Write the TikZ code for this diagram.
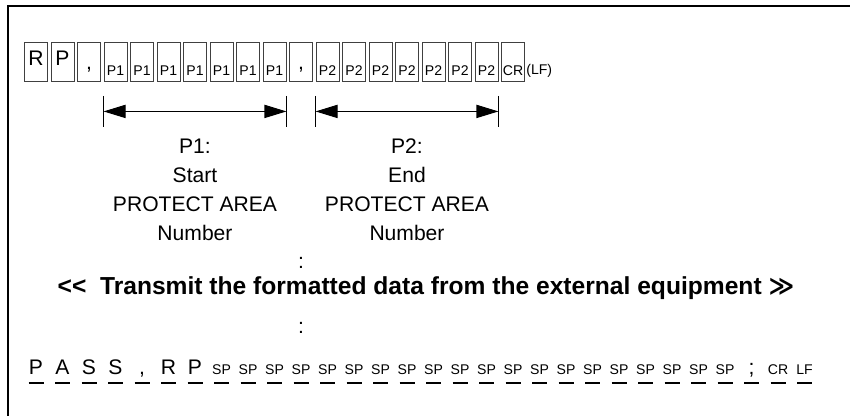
\documentclass[tikz,border=0pt]{standalone}
\usepackage{fontspec}
\setmainfont{Liberation Sans}
\newfontfamily\symfont{DejaVu Sans}
\usetikzlibrary{arrows.meta,positioning,calc}

\begin{document}
\begin{tikzpicture}[
    frame/.style={line width=1.3pt, black},
    cell/.style={
        draw=black!75,
        line width=0.5pt,
        minimum width=0.46cm,
        minimum height=0.78cm,
        inner sep=0pt,
        font=\fontsize{12}{14}\selectfont,
        text height=8.5pt,
        text depth=4.5pt
    },
    commacell/.style={
        cell,
        text height=8.6pt,
        text depth=0pt
    },
    smallcell/.style={
        cell,
        font=\fontsize{8}{10}\selectfont,
        text height=15.4pt,
        text depth=0pt
    },
    bigch/.style={anchor=base, inner sep=0pt, font=\fontsize{12}{14}\selectfont},
    smallch/.style={anchor=base, inner sep=0pt, font=\fontsize{8}{10}\selectfont},
    uline/.style={line width=1.1pt, black},
    dimarrow/.style={
        {Triangle[length=12.5pt,width=7.5pt]}-{Triangle[length=12.5pt,width=7.5pt]},
        line width=0.6pt
    },
    tick/.style={line width=0.7pt},
    lbl/.style={align=center, inner sep=0pt, font=\fontsize{12}{16.5}\selectfont},
    title/.style={inner sep=0pt, font=\fontsize{14}{16}\selectfont\bfseries}
]

\useasboundingbox (0,0) rectangle (17,-8.32);

% ============================================================
% Frame
% ============================================================

\draw[frame] (0.16,-8.32) -- (0.16,-0.12) -- (17,-0.12);

% ============================================================
% Command row
% ============================================================

\node[cell] (c0) at (0.72,-1.23) {R};
\node[cell] (c1) at (1.25,-1.23) {P};
\node[commacell] (c2) at (1.78,-1.23) {,};

\foreach \i in {3,...,9}
    \node[smallcell] (c\i) at (0.72+0.53*\i,-1.23) {P1};

\node[commacell] (c10) at (6.02,-1.23) {,};

\foreach \i in {11,...,17}
    \node[smallcell] (c\i) at (0.72+0.53*\i,-1.23) {P2};

\node[smallcell] (c18) at (10.26,-1.23) {CR};

\node[smallch, anchor=base west] (lf) at (10.52,-1.50) {(LF)};

% ============================================================
% Parameter ranges
% ============================================================

\coordinate (a1l) at ([yshift=-0.6cm]c3.south west);
\coordinate (a1r) at ([yshift=-0.6cm]c9.south east);
\coordinate (a2l) at ([yshift=-0.6cm]c11.south west);
\coordinate (a2r) at ([yshift=-0.6cm]c17.south east);

\draw[dimarrow] (a1l) -- (a1r);
\draw[dimarrow] (a2l) -- (a2r);

\foreach \c in {a1l,a1r,a2l,a2r}
    \draw[tick] ([yshift=0.31cm]\c) -- ([yshift=-0.31cm]\c);

\node[lbl] (p1lbl) at (3.90,-3.80)
{
P1:\\
Start\\
PROTECT AREA\\
Number
};

\node[lbl] (p2lbl) at (8.14,-3.80)
{
P2:\\
End\\
PROTECT AREA\\
Number
};

% ============================================================
% Transmission
% ============================================================

\node[lbl] (dots1) at (6.02,-5.26) {:};

\node[title] (msg) at (8.52,-5.76)
    {<{}<\ \ Transmit the formatted data from the external equipment {\symfont ≫}};

\node[lbl] (dots2) at (6.02,-6.56) {:};

% ============================================================
% Response row
% ============================================================

\foreach \t [count=\i from 0] in {P,A,S,S,{,},R,P}
    \node[bigch] (s\i) at (0.72+0.53*\i,-7.50) {\t};

\foreach \i in {7,...,26}
    \node[smallch] (s\i) at (0.72+0.53*\i,-7.50) {SP};

\node[bigch] (s27) at (15.03,-7.50) {;};
\node[smallch] (s28) at (15.56,-7.50) {CR};
\node[smallch] (s29) at (16.09,-7.50) {LF};

\foreach \i in {0,...,29}
    \draw[uline] ([xshift=-0.15cm,yshift=-0.16cm]s\i.base) -- ++(0.3,0);

\end{tikzpicture}
\end{document}
